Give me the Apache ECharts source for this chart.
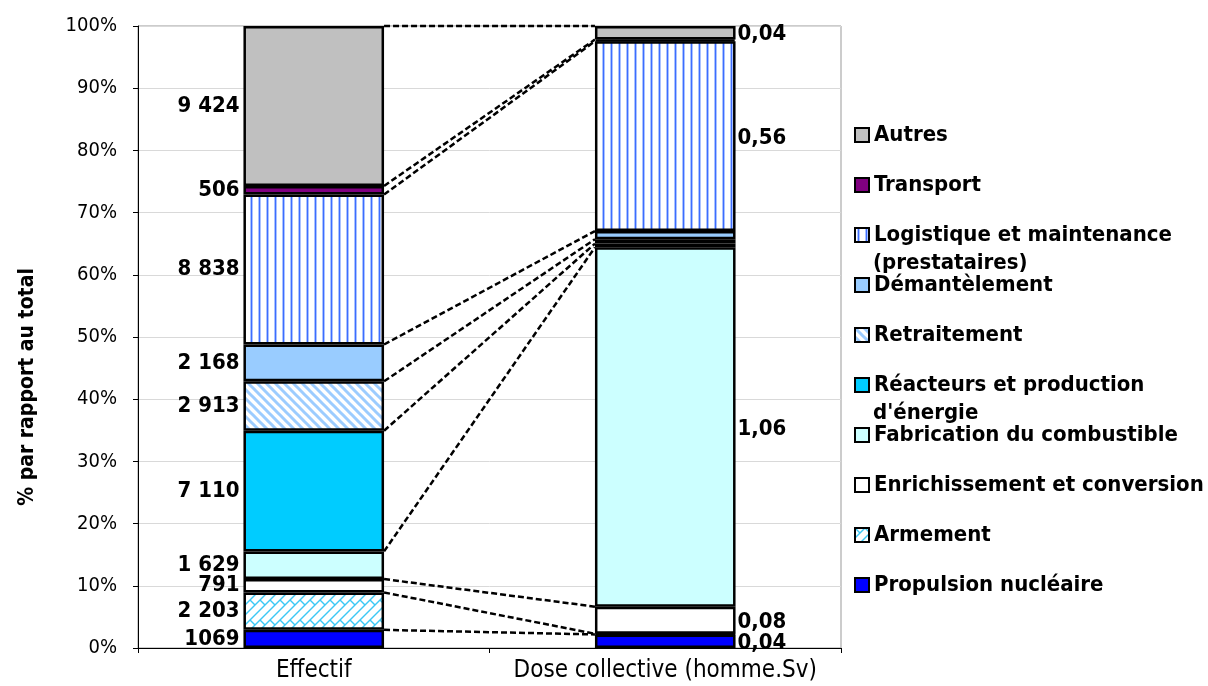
<!DOCTYPE html>
<html>
<head>
<meta charset="utf-8">
<script src="https://cdn.jsdelivr.net/npm/echarts@6/dist/echarts.min.js"></script>
<style>
  html, body { margin: 0; padding: 0; background: #fff; }
  #chart { width: 1208px; height: 686px; }
</style>
</head>
<body>
<div id="chart"></div>
<script>
// ---------------- DATA ----------------
const categories = ['Effectif', 'Dose collective (homme.Sv)'];
// stacking order: bottom -> top
const sectors = [
  'Propulsion nucléaire',
  'Armement',
  'Enrichissement et conversion',
  'Fabrication du combustible',
  "Réacteurs et production\nd'énergie",
  'Retraitement',
  'Démantèlement',
  'Logistique et maintenance\n(prestataires)',
  'Transport',
  'Autres'
];
const effectif = [1069, 2203, 791, 1629, 7110, 2913, 2168, 8838, 506, 9424];
const effectifLabels = ['1069', '2 203', '791', '1 629', '7 110', '2 913', '2 168', '8 838', '506', '9 424'];
const dose = [0.04, 0.002, 0.08, 1.06, 0.011, 0.013, 0.024, 0.56, 0.005, 0.04];
const doseLabels = ['0,04', '', '0,08', '1,06', '', '', '', '0,56', '', '0,04'];
const yTicks = [0, 10, 20, 30, 40, 50, 60, 70, 80, 90, 100];

// ---------------- HELPERS ----------------
const FONT = '"DejaVu Sans Condensed", "DejaVu Sans", sans-serif';
const sum = a => a.reduce((s, v) => s + v, 0);
const totEff = sum(effectif), totDose = sum(dose);
const pctEff = effectif.map(v => v / totEff * 100);
const pctDose = dose.map(v => v / totDose * 100);
const cum = a => { let s = 0; return a.map(v => (s += v)); };
const cumEff = cum(pctEff), cumDose = cum(pctDose);

function tile(w, h, draw) {
  const c = document.createElement('canvas');
  c.width = w; c.height = h;
  const ctx = c.getContext('2d');
  ctx.fillStyle = '#ffffff';
  ctx.fillRect(0, 0, w, h);
  draw(ctx, w, h);
  return { image: c, repeat: 'repeat' };
}
const vStripes = tile(8, 8, (ctx) => {
  ctx.fillStyle = '#aac2ff'; ctx.fillRect(2, 0, 3, 8);
  ctx.fillStyle = '#3d6dff'; ctx.fillRect(3, 0, 1, 8);
});
const diagStripes = tile(9, 9, (ctx) => {
  ctx.strokeStyle = '#9cccff'; ctx.lineWidth = 3;
  for (const o of [-9, 0, 9]) { ctx.beginPath(); ctx.moveTo(o - 2, -2); ctx.lineTo(o + 11, 11); ctx.stroke(); }
});
const brick = tile(20, 20, (ctx) => {
  ctx.strokeStyle = '#3cc8f5'; ctx.lineWidth = 1.4;
  for (const c of [-20, -10, 0, 10, 20, 30, 40, 50]) {
    ctx.beginPath(); ctx.moveTo(c + 10, -10); ctx.lineTo(-10, c + 10); ctx.stroke();
  }
  for (const ox of [-20, 0, 20]) for (const oy of [-20, 0, 20]) {
    ctx.beginPath(); ctx.moveTo(ox, oy); ctx.lineTo(ox + 5, oy + 5); ctx.stroke();
    ctx.beginPath(); ctx.moveTo(ox + 10, oy); ctx.lineTo(ox + 15, oy + 5); ctx.stroke();
  }
});

const fills = ['#0000ff', brick, '#ffffff', '#ccffff', '#00ccff', diagStripes, '#99ccff', vStripes, '#800080', '#c0c0c0'];

const labelStyle = { fontFamily: FONT, fontWeight: 'bold', fontSize: 22, color: '#000' };

const barSeries = sectors.map((name, i) => ({
  name,
  type: 'bar',
  stack: 'total',
  barWidth: '40%',
  itemStyle: { color: fills[i], borderColor: '#000', borderWidth: 2.5 },
  emphasis: { disabled: true },
  label: Object.assign({ show: true }, labelStyle, {
    formatter: p => (p.dataIndex === 0 ? effectifLabels[i] : doseLabels[i])
  }),
  data: [
    { value: pctEff[i], label: { position: 'left', distance: 4 } },
    { value: pctDose[i], label: { position: 'right', distance: 2, offset: [0, 2] } }
  ]
}));

const connectorSeries = {
  type: 'custom',
  name: 'connectors',
  silent: true,
  z: 5,
  encode: { x: 0, y: 1 },
  data: cumEff.map((v, i) => [0, v, cumDose[i]]),
  renderItem: (params, api) => {
    const band = api.size([1, 0])[0];
    const half = band * 0.4 / 2;
    const p0 = api.coord([0, api.value(1)]);
    const p1 = api.coord([1, api.value(2)]);
    return {
      type: 'line',
      shape: { x1: p0[0] + half, y1: p0[1], x2: p1[0] - half, y2: p1[1] },
      style: { stroke: '#000', lineWidth: 2.5, lineDash: [6, 3] }
    };
  }
};

// ---------------- LEGEND ----------------
const legendFont = { fontFamily: FONT, fontWeight: 'bold', fontSize: 22, color: '#000' };
const LEG_LEFT = 854, LEG_TOP = 121, LEG_SYM = 14, LEG_LINE = 28, LEG_GAP = 22;
const legendOrder = sectors.slice().reverse();
// wrapped second lines overflow below their slot, as in the original
const legendContinuations = [];
legendOrder.forEach((name, k) => {
  const parts = name.split('\n');
  if (parts.length > 1) {
    legendContinuations.push({
      type: 'text',
      left: LEG_LEFT + LEG_SYM + 5,
      top: LEG_TOP + k * (LEG_LINE + LEG_GAP) + LEG_LINE,
      silent: true,
      style: Object.assign({ text: parts.slice(1).join('\n'), fill: '#000', lineHeight: LEG_LINE,
        font: 'bold 22px ' + FONT })
    });
  }
});

const chart = echarts.init(document.getElementById('chart'), null, { renderer: 'canvas' });
chart.setOption({
  animation: false,
  backgroundColor: '#fff',
  textStyle: { fontFamily: FONT },
  grid: { left: 138, right: 367, top: 26, bottom: 38, show: true, borderColor: '#999', borderWidth: 1 },
  legend: {
    orient: 'vertical',
    left: LEG_LEFT,
    top: LEG_TOP,
    padding: 0,
    icon: 'rect',
    itemWidth: LEG_SYM,
    itemHeight: LEG_SYM,
    itemGap: LEG_GAP,
    selectedMode: false,
    data: legendOrder,
    formatter: name => name.split('\n')[0],
    textStyle: Object.assign({}, legendFont, { lineHeight: LEG_LINE })
  },
  graphic: legendContinuations,
  xAxis: {
    type: 'category',
    data: categories,
    axisLine: { lineStyle: { color: '#000', width: 1 } },
    axisTick: { show: true, length: 5, lineStyle: { color: '#000' } },
    axisLabel: { fontFamily: FONT, fontSize: 24, color: '#000', margin: 11, interval: 0 }
  },
  yAxis: {
    type: 'value',
    min: 0,
    max: 100,
    interval: 10,
    name: '% par rapport au total',
    nameLocation: 'middle',
    nameRotate: 90,
    nameGap: 100,
    nameTextStyle: { fontFamily: FONT, fontWeight: 'bold', fontSize: 21, color: '#000', padding: [0, 100, 0, 0] },
    axisLine: { show: true, lineStyle: { color: '#000', width: 1 } },
    axisTick: { show: true, length: 5, lineStyle: { color: '#000' } },
    axisLabel: {
      fontFamily: FONT, fontSize: 20, color: '#000', margin: 21,
      formatter: v => (yTicks.includes(v) ? v + '%' : '')
    },
    splitLine: { lineStyle: { color: '#d9d9d9', width: 1 } }
  },
  series: barSeries.concat([connectorSeries])
});
</script>
</body>
</html>
